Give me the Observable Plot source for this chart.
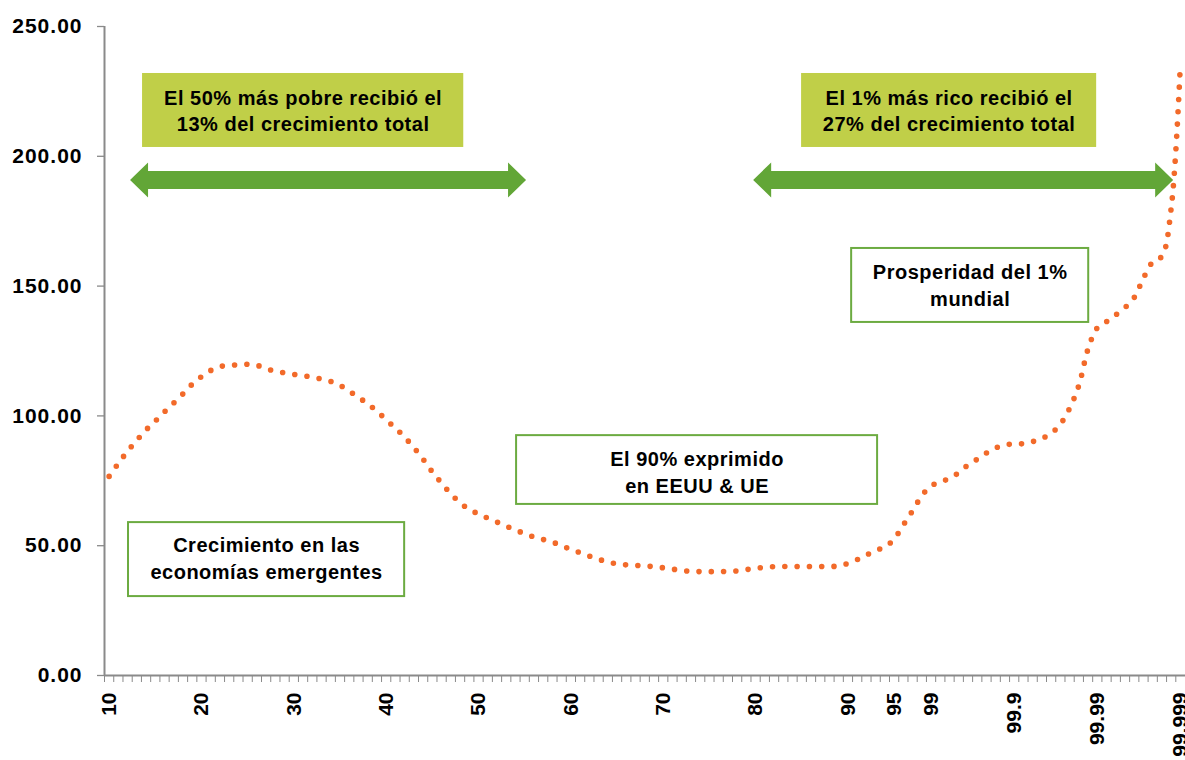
<!DOCTYPE html>
<html>
<head>
<meta charset="utf-8">
<script src="https://cdn.jsdelivr.net/npm/d3@7"></script>
<script src="https://cdn.jsdelivr.net/npm/@observablehq/plot@0.6"></script>
<style>
  html, body { margin: 0; padding: 0; background: #ffffff; }
  #chart svg { display: block; }
  g[aria-label="y-axis tick label"] text { letter-spacing: 1px; }
  g[aria-label="text"] text { letter-spacing: 0.5px; }
</style>
</head>
<body>
<div id="chart"></div>
<script>
// ---- categories (income percentiles, non-linear x axis) ----
const percentiles = [
  ...d3.range(10, 100).map(String),
  "99.1","99.2","99.3","99.4","99.5","99.6","99.7","99.8","99.9",
  "99.91","99.92","99.93","99.94","99.95","99.96","99.97","99.98","99.99",
  "99.991","99.992","99.993","99.994","99.995","99.996","99.997","99.998","99.999"
];

// ---- series values ----
const growth = [
  76.7, 81.7, 86.4, 90.6, 94.6, 98.0, 101.6, 105.0, 108.5, 112.2,
  115.1, 117.5, 119.0, 119.4, 119.7, 119.9, 119.5, 118.2, 117.2, 116.6,
  116.0, 115.5, 114.9, 114.2, 113.3, 111.8, 109.5, 107.2, 104.6, 101.8,
  98.5, 95.3, 91.8, 87.8, 83.3, 78.4, 74.1, 70.0, 66.5, 64.0,
  62.2, 60.6, 59.1, 57.5, 56.1, 54.6, 53.4, 52.4, 51.4, 50.0,
  48.5, 47.3, 46.0, 44.8, 43.7, 43.0, 42.6, 42.4, 42.2, 41.9,
  41.5, 41.0, 40.4, 40.2, 40.0, 40.0, 40.0, 40.1, 40.3, 40.8,
  41.3, 41.7, 41.9, 42.0, 42.0, 42.0, 42.0, 42.0, 41.9, 42.3,
  43.2, 44.6, 46.4, 48.2, 49.5, 52.6, 58.0, 63.5, 69.2, 73.1,
  74.4, 76.0, 78.1, 81.1, 83.3, 85.7, 87.7, 88.8, 89.2, 89.3,
  90.1, 91.3, 93.3, 96.8, 102.9, 111.7, 125.8, 133.9, 136.3, 138.9,
  141.7, 145.6, 153.1, 159.3, 161.5, 180.0, 236.0
];

// ---- tick labels ----
const xTickLabels = ["10","20","30","40","50","60","70","80","90","95","99","99.9","99.99","99.999"];
const yTicks = [0, 50, 100, 150, 200, 250];

// ---- annotation texts ----
const boxTexts = [
  "El 50% más pobre recibió el\n13% del crecimiento total",
  "El 1% más rico recibió el\n27% del crecimiento total",
  "Prosperidad del 1%\nmundial",
  "El 90% exprimido\nen EEUU & UE",
  "Crecimiento en las\neconomías emergentes"
];
// box extents in chart units (x: percentile index, y: value)
const boxX1 = [3.62, 74.98, 80.4, 44.12, 2.1];
const boxX2 = [38.4, 106.93, 106.07, 83.21, 32.0];
const boxY1 = [203.4, 203.4, 136.0, 65.9, 30.4];
const boxY2 = [231.9, 231.9, 164.5, 92.4, 58.9];
const boxTextY = [218.0, 218.0, 150.8, 78.8, 45.6];
const boxFilled = [true, true, false, false, false];

// double-headed arrows (x: percentile index, y: value)
const arrowX1 = [2.32, 69.79];
const arrowX2 = [45.2, 115.27];
const arrowY = [190.7, 190.7];

// ---- build tables ----
const data = growth.map((v, i) => ({i, pct: percentiles[i], v}));
const xTickIdx = xTickLabels.map(l => percentiles.indexOf(l));
const minorTicks = d3.range(percentiles.length).map(i => i - 0.5);

const boxes = boxTexts.map((t, k) => ({
  text: t, x1: boxX1[k], x2: boxX2[k], y1: boxY1[k], y2: boxY2[k],
  tx: (boxX1[k] + boxX2[k]) / 2, ty: boxTextY[k], filled: boxFilled[k]
}));

const headLen = 1.95, shaftHalf = 3.47, headHalf = 6.74;
const arrowPts = [];
arrowX1.forEach((x1, k) => {
  const x2 = arrowX2[k], yc = arrowY[k];
  arrowPts.push(
    {id: k, x: x1, y1: yc, y2: yc},
    {id: k, x: x1 + headLen, y1: yc - headHalf, y2: yc + headHalf},
    {id: k, x: x1 + headLen, y1: yc - shaftHalf, y2: yc + shaftHalf},
    {id: k, x: x2 - headLen, y1: yc - shaftHalf, y2: yc + shaftHalf},
    {id: k, x: x2 - headLen, y1: yc - headHalf, y2: yc + headHalf},
    {id: k, x: x2, y1: yc, y2: yc}
  );
});

const AXIS = "#8a8a8a";
const ORANGE = "#f26a2a";
const LIME = "#c0cf48";
const GREEN = "#62a637";
const BORDER = "#6cab41";

const chart = Plot.plot({
  width: 1185,
  height: 760,
  marginLeft: 104,
  marginRight: 0,
  marginTop: 26,
  marginBottom: 85,
  style: {fontFamily: "'Liberation Sans', Arial, sans-serif", fontWeight: "bold", color: "#000", background: "#fff"},
  x: {type: "linear", domain: [-0.5, 116.55]},
  y: {type: "linear", domain: [0, 250]},
  marks: [
    // axes
    Plot.axisY(yTicks, {tickSize: 7, tickPadding: 15, tickFormat: d => d.toFixed(2), stroke: AXIS, strokeWidth: 1.3, fontSize: 21, fontWeight: "bold", label: null}),
    Plot.axisX(minorTicks, {tickSize: 7, tickFormat: () => "", stroke: AXIS, strokeWidth: 1, label: null}),
    Plot.axisX(xTickIdx, {tickSize: 0, tickPadding: 17, tickRotate: -90, tickFormat: i => percentiles[i], fontSize: 21, fontWeight: "bold", label: null}),
    Plot.ruleX([-0.5], {stroke: AXIS, strokeWidth: 2}),
    Plot.ruleY([0], {stroke: AXIS, strokeWidth: 2}),
    // annotation boxes
    Plot.rect(boxes.filter(b => b.filled), {x1: "x1", x2: "x2", y1: "y1", y2: "y2", fill: LIME}),
    Plot.rect(boxes.filter(b => !b.filled), {x1: "x1", x2: "x2", y1: "y1", y2: "y2", fill: "#fff", stroke: BORDER, strokeWidth: 2}),
    Plot.text(boxes, {x: "tx", y: "ty", text: "text", fontSize: 20, fontWeight: "bold", lineHeight: 1.33, lineAnchor: "middle", textAnchor: "middle", fill: "#000"}),
    // arrows
    Plot.areaY(arrowPts, {x: "x", y1: "y1", y2: "y2", z: "id", fill: GREEN, curve: "linear"}),
    // the dotted curve
    Plot.line(data, {x: "i", y: "v", stroke: ORANGE, strokeWidth: 5.6, strokeDasharray: "0 12.3", strokeLinecap: "round", curve: "catmull-rom"})
  ]
});
document.getElementById("chart").appendChild(chart);
</script>
</body>
</html>
